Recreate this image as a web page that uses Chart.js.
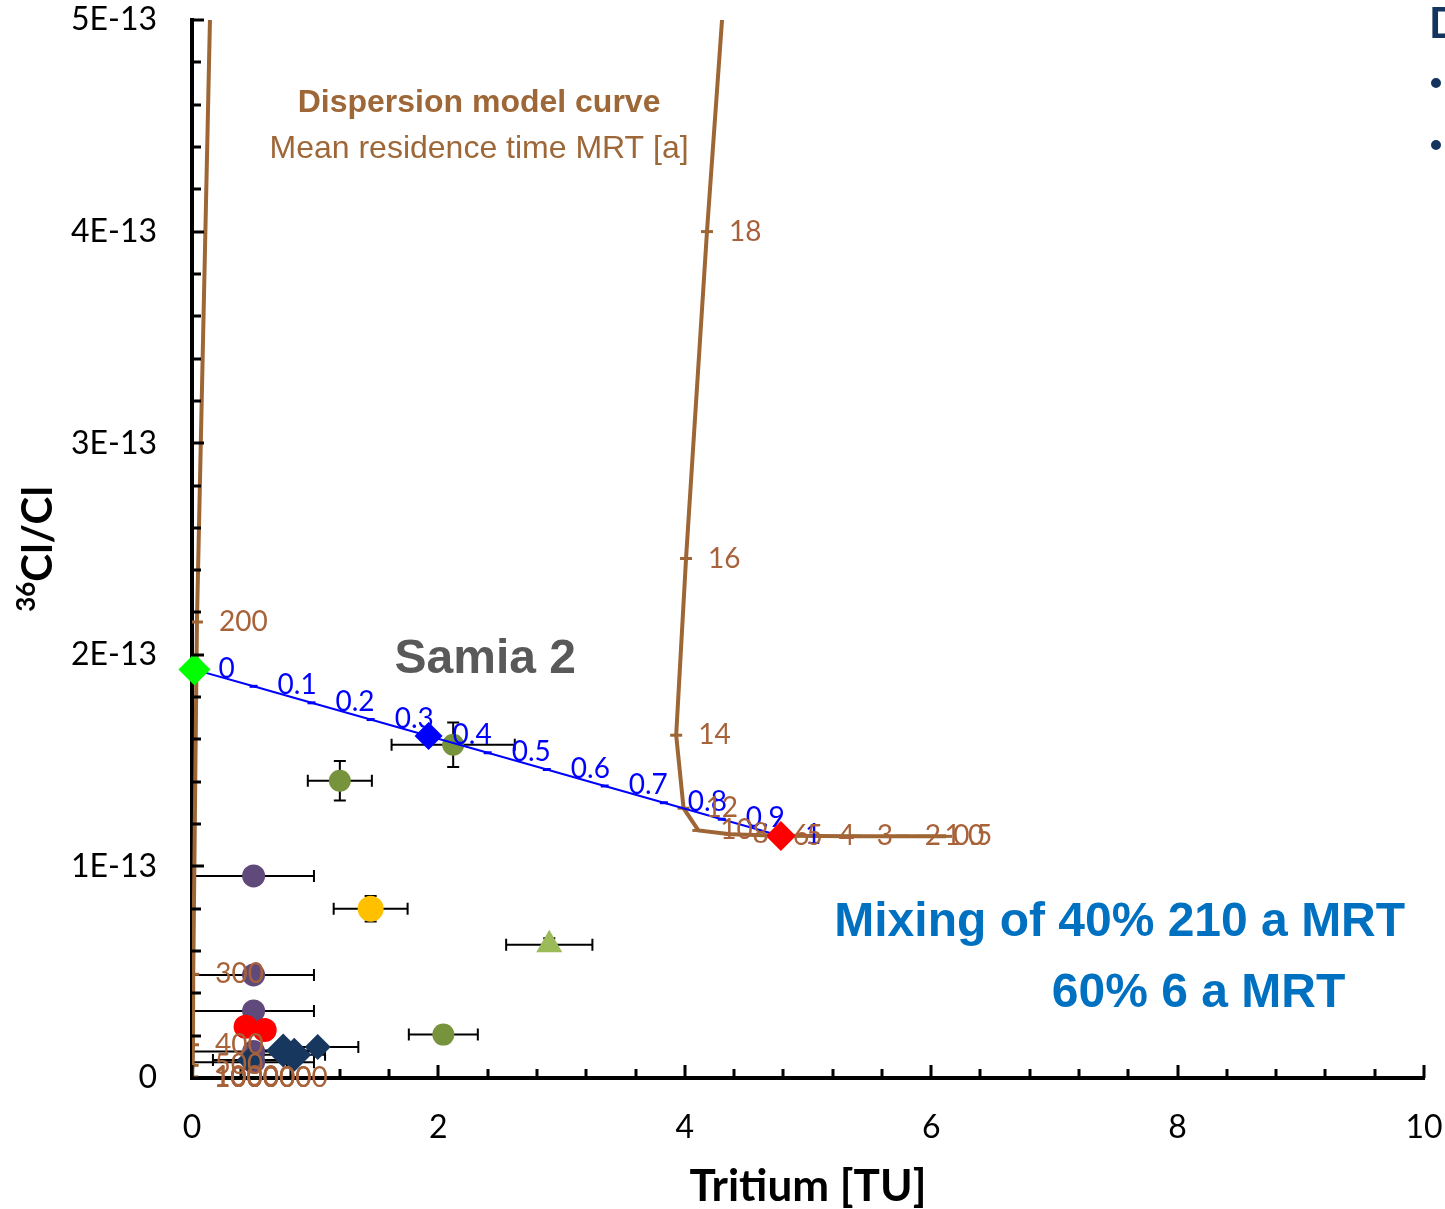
<!DOCTYPE html>
<html>
<head>
<meta charset="utf-8">
<script src="https://cdn.jsdelivr.net/npm/chart.js@4.4.1/dist/chart.umd.min.js"></script>
<style>
  html, body { margin: 0; padding: 0; background: #fff; }
</style>
</head>
<body>
<canvas id="chart" width="1445" height="1209"></canvas>
<script>
// 36Cl/Cl values are kept in units of 1E-13 (ticks are labelled "nE-13")

// dispersion model curve, labelled by mean residence time [a]
const curveMrt      = ['0', '0.5', '1', '2', '3', '4', '5', '6', '8', '10', '12', '14', '16', '18', '20', '100', '200', '300', '400', '500', '1000', '10000', '100000', '1000000'];
const curveTritium  = [6.12, 6.00, 5.93, 5.77, 5.38, 5.07, 4.81, 4.70, 4.37, 4.11, 3.99, 3.93, 4.01, 4.18, 4.40, 0.22, 0.04, 0.010, 0.008, 0.005, 0.001, 0, 0, 0];
const curveChlorine = [1.142, 1.142, 1.142, 1.143, 1.143, 1.144, 1.145, 1.146, 1.152, 1.170, 1.275, 1.620, 2.455, 4.000, 5.800, 7.000, 2.155, 0.490, 0.157, 0.060, 0.005, 0, 0, 0];

// mixing line 210 a MRT -> 6 a MRT
const mixFraction = ['0', '0.1', '0.2', '0.3', '0.4', '0.5', '0.6', '0.7', '0.8', '0.9', '1'];
const mixTritium  = [0.02, 0.50, 0.97, 1.45, 1.92, 2.40, 2.88, 3.35, 3.83, 4.30, 4.78];
const mixChlorine = [1.930, 1.851, 1.773, 1.694, 1.616, 1.537, 1.458, 1.380, 1.301, 1.223, 1.144];

// end members and the 40/60 mix
const markTritium  = [0.02, 1.92, 4.78];
const markChlorine = [1.930, 1.616, 1.144];

// samples
const oliveTritium  = [2.12, 1.20, 2.04];
const oliveChlorine = [1.575, 1.405, 0.205];
const oliveErrX     = [0.50, 0.26, 0.28];
const oliveErrY     = [0.105, 0.093, 0];

const yellowTritium  = [1.45];
const yellowChlorine = [0.80];
const yellowErrX     = [0.30];
const yellowErrY     = [0.06];

const triTritium  = [2.90];
const triChlorine = [0.63];
const triErrX     = [0.35];
const triErrY     = [0.03];

const purpleTritium  = [0.50, 0.50, 0.50, 0.50, 0.50];
const purpleChlorine = [0.955, 0.487, 0.317, 0.125, 0.075];
const purpleErrX     = [0.49, 0.49, 0.49, 0.49, 0.49];

const redTritium  = [0.435, 0.59];
const redChlorine = [0.242, 0.227];

const navyTritium  = [0.47, 0.74, 0.83, 1.02];
const navyChlorine = [0.085, 0.130, 0.110, 0.147];
const navyErrX     = [0.30, 0.30, 0.25, 0.33];

const yTicks = [0, 1, 2, 3, 4, 5];
const xTicks = [0, 2, 4, 6, 8, 10];

const pts = (xs, ys) => xs.map((v, i) => ({ x: v, y: ys[i] }));

const BROWN = '#9E6535';
const BROWN_TXT = '#A8623A';

// inside tick marks, error bars, labels and text
const decor = {
  id: 'decor',
  beforeDatasetsDraw(chart) {
    const { ctx, scales: { x, y } } = chart;
    ctx.save();
    ctx.strokeStyle = '#000';
    ctx.lineWidth = 2;
    chart.data.datasets.forEach(ds => {
      if (!ds.errX && !ds.errY) return;
      ds.data.forEach((p, i) => {
        const px = x.getPixelForValue(p.x), py = y.getPixelForValue(p.y);
        const ex = ds.errX ? ds.errX[i] : 0, ey = ds.errY ? ds.errY[i] : 0;
        ctx.beginPath();
        if (ex) {
          const a = x.getPixelForValue(p.x - ex), b = x.getPixelForValue(p.x + ex);
          ctx.moveTo(a, py); ctx.lineTo(b, py);
          ctx.moveTo(a, py - 6); ctx.lineTo(a, py + 6);
          ctx.moveTo(b, py - 6); ctx.lineTo(b, py + 6);
        }
        if (ey) {
          const a = y.getPixelForValue(p.y - ey), b = y.getPixelForValue(p.y + ey);
          ctx.moveTo(px, a); ctx.lineTo(px, b);
          ctx.moveTo(px - 6, a); ctx.lineTo(px + 6, a);
          ctx.moveTo(px - 6, b); ctx.lineTo(px + 6, b);
        }
        ctx.stroke();
      });
    });
    ctx.restore();
  },
  afterDatasetDraw(chart, args) {
    const ds = chart.data.datasets[args.index];
    if (ds.id !== 'mix') return;
    const { ctx, scales: { x, y } } = chart;
    ctx.save();
    ctx.font = '28px Lato';
    ctx.fillStyle = '#0000FF';
    ctx.textBaseline = 'middle';
    mixFraction.forEach((t, i) => {
      ctx.fillText(t, x.getPixelForValue(mixTritium[i]) + 24, y.getPixelForValue(mixChlorine[i]) - 1);
    });
    ctx.restore();
  },
  afterDatasetsDraw(chart) {
    const { ctx, chartArea, scales: { x, y } } = chart;
    ctx.save();
    // axis ticks pointing inward
    ctx.strokeStyle = '#000';
    ctx.lineWidth = 3;
    ctx.beginPath();
    for (let v = 0; v <= 5.001; v += 0.2) {
      const py = Math.round(y.getPixelForValue(v));
      const major = Math.abs(v - Math.round(v)) < 0.01;
      ctx.moveTo(chartArea.left, py);
      ctx.lineTo(chartArea.left + (major ? 12 : 9), py);
    }
    for (let v = 0; v <= 10.001; v += 0.4) {
      const px = Math.round(x.getPixelForValue(v));
      const major = Math.abs(v / 2 - Math.round(v / 2)) < 0.01;
      ctx.moveTo(px, chartArea.bottom);
      ctx.lineTo(px, chartArea.bottom - (major ? 13 : 9));
    }
    ctx.stroke();

    // MRT labels of the dispersion curve
    ctx.font = '28px Lato';
    ctx.fillStyle = BROWN_TXT;
    ctx.textBaseline = 'middle';
    curveMrt.forEach((t, i) => {
      const py = y.getPixelForValue(curveChlorine[i]);
      if (py < chartArea.top || py > chartArea.bottom + 5) return;
      ctx.fillText(t, x.getPixelForValue(curveTritium[i]) + 22, py);
    });

    // annotations
    ctx.textAlign = 'center';
    ctx.fillStyle = '#9E6737';
    ctx.font = 'bold 32px "Liberation Sans"';
    ctx.fillText('Dispersion model curve', x.getPixelForValue(2.33), y.getPixelForValue(4.607));
    ctx.font = '32px "Liberation Sans"';
    ctx.fillText('Mean residence time MRT [a]', x.getPixelForValue(2.33), y.getPixelForValue(4.39));

    ctx.fillStyle = '#595959';
    ctx.font = 'bold 48px "Liberation Sans"';
    ctx.fillText('Samia 2', x.getPixelForValue(2.38), y.getPixelForValue(1.975));

    ctx.fillStyle = '#0070C0';
    ctx.font = 'bold 48px "Liberation Sans"';
    ctx.fillText('Mixing of 40% 210 a MRT', x.getPixelForValue(7.53), y.getPixelForValue(0.733));
    ctx.fillText('60% 6 a MRT', x.getPixelForValue(8.17), y.getPixelForValue(0.40));

    // y axis title with superscript
    const cy = (chartArea.top + chartArea.bottom) / 2;
    ctx.textAlign = 'left';
    ctx.textBaseline = 'alphabetic';
    ctx.fillStyle = '#000';
    ctx.font = 'bold 42px Lato';
    const main = 'Cl/Cl';
    const wMain = ctx.measureText(main).width;
    ctx.font = 'bold 26px Lato';
    const wSup = ctx.measureText('36').width;
    const total = wMain + wSup;
    ctx.translate(52, cy + total / 2);
    ctx.rotate(-Math.PI / 2);
    ctx.fillText('36', 0, -17);
    ctx.font = 'bold 42px Lato';
    ctx.fillText(main, wSup, 0);
    ctx.setTransform(1, 0, 0, 1, 0, 0);

    // cut-off slide text at the right edge
    ctx.fillStyle = '#12345E';
    ctx.font = 'bold 42px Lato';
    ctx.fillText('D', 1429, 38);
    ctx.beginPath();
    ctx.arc(1436, 83, 5, 0, Math.PI * 2);
    ctx.arc(1436, 145, 5, 0, Math.PI * 2);
    ctx.fill();
    ctx.restore();
  }
};

new Chart(document.getElementById('chart'), {
  type: 'scatter',
  data: {
    datasets: [
      {
        data: pts(markTritium, markChlorine), order: 1, clip: false,
        pointStyle: 'rectRot', pointRadius: [16, 14, 15], pointBorderWidth: 0,
        pointBackgroundColor: ['#00FF00', '#0000FF', '#FF0000'], pointBorderColor: 'rgba(0,0,0,0)'
      },
      {
        id: 'mix', data: pts(mixTritium, mixChlorine), order: 3, showLine: true,
        borderColor: '#0000FF', borderWidth: 2,
        pointStyle: 'line', pointRadius: 4, pointBorderWidth: 3, pointBorderColor: '#0000FF'
      },
      {
        data: pts(curveTritium, curveChlorine), order: 5, showLine: true,
        borderColor: BROWN, borderWidth: 4,
        pointStyle: 'line', pointRadius: 6, pointBorderWidth: 3, pointBorderColor: BROWN
      },
      {
        data: pts(triTritium, triChlorine), errX: triErrX, errY: triErrY, order: 10,
        pointStyle: 'triangle', pointRadius: 15, pointBorderWidth: 0,
        pointBackgroundColor: '#9BBB59', pointBorderColor: 'rgba(0,0,0,0)'
      },
      {
        data: pts(yellowTritium, yellowChlorine), errX: yellowErrX, errY: yellowErrY, order: 11,
        pointRadius: 13, pointBorderWidth: 0, pointBackgroundColor: '#FFC000', pointBorderColor: 'rgba(0,0,0,0)'
      },
      {
        data: pts(oliveTritium, oliveChlorine), errX: oliveErrX, errY: oliveErrY, order: 12,
        pointRadius: 11, pointBorderWidth: 0, pointBackgroundColor: '#77933C', pointBorderColor: 'rgba(0,0,0,0)'
      },
      {
        data: pts(navyTritium, navyChlorine), errX: navyErrX, order: 13,
        pointStyle: 'rectRot', pointRadius: [13, 17, 17, 13], pointBorderWidth: 0,
        pointBackgroundColor: '#17375E', pointBorderColor: 'rgba(0,0,0,0)'
      },
      {
        data: pts(redTritium, redChlorine), order: 14,
        pointRadius: 12, pointBorderWidth: 0, pointBackgroundColor: '#FF0000', pointBorderColor: 'rgba(0,0,0,0)'
      },
      {
        data: pts(purpleTritium, purpleChlorine), errX: purpleErrX, order: 15,
        pointRadius: 11.5, pointBorderWidth: 0, pointBackgroundColor: '#604A7B', pointBorderColor: 'rgba(0,0,0,0)'
      }
    ]
  },
  options: {
    responsive: false,
    animation: false,
    devicePixelRatio: 1,
    layout: { padding: { top: 20, right: 21, left: 0, bottom: 0 } },
    plugins: { legend: { display: false }, tooltip: { enabled: false } },
    scales: {
      x: {
        type: 'linear', min: 0, max: 10,
        afterBuildTicks: s => { s.ticks = xTicks.map(v => ({ value: v })); },
        afterFit: s => { s.height = 131; s.paddingLeft = 0; s.paddingRight = 0; },
        grid: { display: false, drawTicks: false },
        border: { display: true, color: '#000', width: 4 },
        ticks: { padding: 30, color: '#000', font: { family: 'Lato', size: 32 } },
        title: {
          display: true, text: 'Tritium [TU]', color: '#000',
          font: { family: 'Lato', size: 44, weight: 'bold', lineHeight: 1 },
          padding: { top: 0, bottom: 0 }
        }
      },
      y: {
        type: 'linear', min: 0, max: 5,
        afterBuildTicks: s => { s.ticks = yTicks.map(v => ({ value: v })); },
        afterFit: s => { s.width = 192; s.paddingTop = 0; s.paddingBottom = 0; },
        grid: { display: false, drawTicks: false },
        border: { display: true, color: '#000', width: 4 },
        ticks: {
          padding: 35, color: '#000', font: { family: 'Lato', size: 32 },
          callback: v => (v === 0 ? '0' : v + 'E-13')
        }
      }
    }
  },
  plugins: [decor]
});
</script>
</body>
</html>
